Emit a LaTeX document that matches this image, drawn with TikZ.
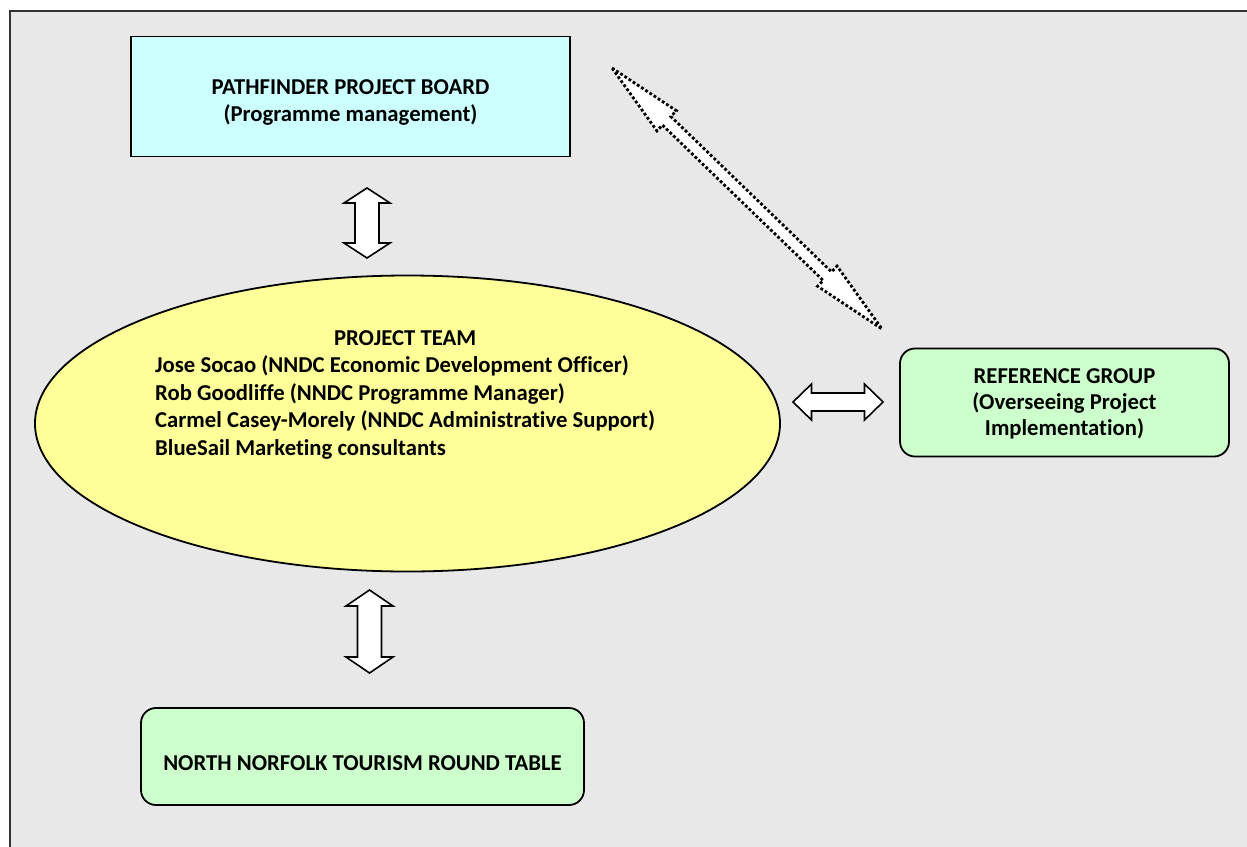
\documentclass[tikz,border=0pt]{standalone}
\usepackage{fontspec}
\setmainfont[Ligatures=NoCommon]{Carlito}
\usetikzlibrary{calc,shapes.geometric}
\definecolor{bg}{RGB}{232,232,232}
\definecolor{cyanfill}{RGB}{204,255,255}
\definecolor{greenfill}{RGB}{204,255,204}
\definecolor{yellowfill}{RGB}{255,255,153}
\newcommand{\dblarrow}[6][]{%
  \draw[blockarrow,#1] (#2)
   -- ($(#2)!#4!(#3)!#5!90:(#3)$)
   -- ($(#2)!#4!(#3)!#6!90:(#3)$)
   -- ($(#3)!#4!(#2)!#6!-90:(#2)$)
   -- ($(#3)!#4!(#2)!#5!-90:(#2)$)
   -- (#3)
   -- ($(#3)!#4!(#2)!#5!90:(#2)$)
   -- ($(#3)!#4!(#2)!#6!90:(#2)$)
   -- ($(#2)!#4!(#3)!#6!-90:(#3)$)
   -- ($(#2)!#4!(#3)!#5!-90:(#3)$)
   -- cycle;}
\begin{document}
\begin{tikzpicture}[x=1pt,y=-1pt,
  box/.style={draw=black, line width=1.8pt, inner sep=0pt},
  rbox/.style={box, rounded corners=15pt, fill=greenfill},
  txt/.style={inner sep=0pt, font=\fontsize{22.7}{27}\selectfont\bfseries},
  blockarrow/.style={draw=black, fill=white, line width=1.6pt, line join=miter},
  dottedarrow/.style={line width=2.8pt, dash pattern=on 2.8pt off 2.2pt}]
\useasboundingbox (0,0) rectangle (1247,846);
\fill[white] (0,0) rectangle (1247,846);
\draw[fill=bg, line width=1.8pt, draw=black!80] (10,11) rectangle (1262,862);

% boxes
\node[box, fill=cyanfill, minimum width=439pt, minimum height=120pt] (board) at (350.5,96.5) {};
\node[txt, anchor=base] (boardtxt) at (350.5,94)
  {\begin{tabular}[t]{@{}c@{}}PATHFINDER PROJECT BOARD\\(Programme management)\end{tabular}};

\node[draw=black, line width=1.8pt, fill=yellowfill, ellipse, minimum width=745pt, minimum height=296pt, inner sep=0pt] (team) at (407.5,423.5) {};
\node[txt, anchor=base west, font=\fontsize{22.7}{27.6}\selectfont\bfseries] (teamtxt) at (155,345)
  {\begin{tabular}[t]{@{}l@{}}\multicolumn{1}{@{}c@{}}{PROJECT TEAM}\\
   Jose Socao (NNDC Economic Development Officer)\\
   Rob Goodliffe (NNDC Programme Manager)\\
   Carmel Casey-Morely (NNDC Administrative Support)\\
   BlueSail Marketing consultants\end{tabular}};

\node[rbox, minimum width=329pt, minimum height=108pt] (ref) at (1064.5,402.5) {};
\node[txt, anchor=base, font=\fontsize{22.7}{26}\selectfont\bfseries] (reftxt) at (1064.5,383)
  {\begin{tabular}[t]{@{}c@{}}REFERENCE GROUP\\(Overseeing Project\\Implementation)\end{tabular}};

\node[rbox, minimum width=443pt, minimum height=97pt] (nnt) at (362.5,756.5) {};
\node[txt, anchor=base] (nnttxt) at (362.5,770) {NORTH NORFOLK TOURISM ROUND TABLE};

% arrow end points
\coordinate (a1s) at (367,188);
\coordinate (a1e) at (367,258);
\coordinate (a2s) at (369.5,590);
\coordinate (a2e) at (369.5,673);
\coordinate (a3s) at (793,402);
\coordinate (a3e) at (883,402);
\coordinate (a4s) at (612,68);
\coordinate (a4e) at (882,329);

\dblarrow{a1s}{a1e}{15pt}{23pt}{12pt}
\dblarrow{a2s}{a2e}{16pt}{23.5pt}{12pt}
\dblarrow{a3s}{a3e}{18.5pt}{18pt}{9pt}
\dblarrow[dottedarrow]{a4s}{a4e}{76pt}{14pt}{6pt}
\end{tikzpicture}
\end{document}
